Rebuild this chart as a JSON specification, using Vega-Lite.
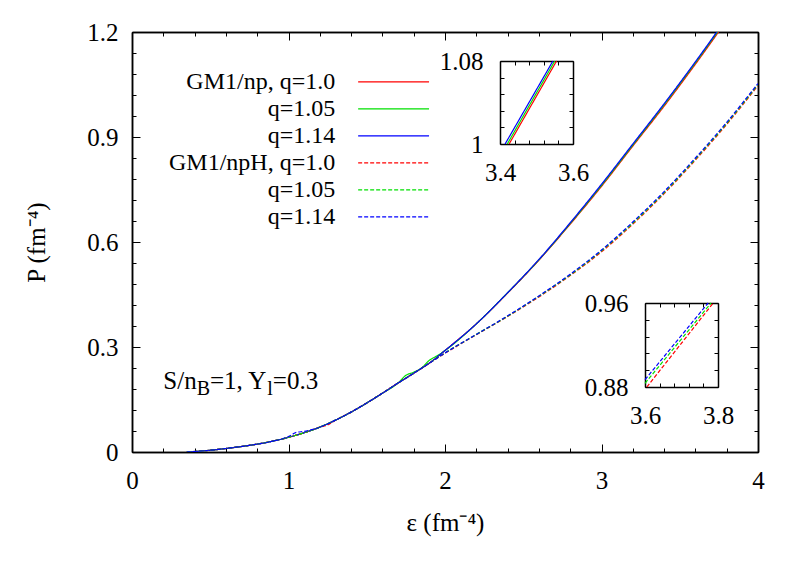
{
  "$schema": "https://vega.github.io/schema/vega-lite/v6.json",
  "width": 626,
  "height": 420,
  "autosize": {"type": "none"},
  "padding": {"left": 132, "top": 32, "right": 49, "bottom": 113},
  "background": "white",
  "config": {
    "view": {"stroke": null},
    "font": "Liberation Serif",
    "axis": {
      "grid": false, "domainColor": "#000", "domainWidth": 1.5, "tickColor": "#000", "tickWidth": 1,
      "labelFont": "Liberation Serif", "labelFontSize": 25, "labelColor": "#000",
      "titleFont": "Liberation Serif", "titleFontSize": 25, "titleFontWeight": "normal", "titleColor": "#000",
      "labelFlush": false, "labelOverlap": false
    }
  },
  "datasets": {
    "main": [
      {"s":"np1.0","e":0.35,"P":0.000},{"s":"np1.0","e":0.45,"P":0.003},{"s":"np1.0","e":0.6,"P":0.010},{"s":"np1.0","e":0.75,"P":0.019},{"s":"np1.0","e":0.9,"P":0.031},{"s":"np1.0","e":1.0,"P":0.042},{"s":"np1.0","e":1.1,"P":0.055},{"s":"np1.0","e":1.2,"P":0.071},{"s":"np1.0","e":1.3,"P":0.091},{"s":"np1.0","e":1.4,"P":0.114},{"s":"np1.0","e":1.5,"P":0.140},{"s":"np1.0","e":1.6,"P":0.168},{"s":"np1.0","e":1.7,"P":0.197},{"s":"np1.0","e":1.8,"P":0.225},{"s":"np1.0","e":1.9,"P":0.254},
      {"s":"np1.0","e":2.0,"P":0.290},{"s":"np1.0","e":2.2,"P":0.366},{"s":"np1.0","e":2.4,"P":0.454},{"s":"np1.0","e":2.6,"P":0.548},{"s":"np1.0","e":2.8,"P":0.651},{"s":"np1.0","e":3.0,"P":0.759},{"s":"np1.0","e":3.2,"P":0.874},{"s":"np1.0","e":3.4,"P":0.988},{"s":"np1.0","e":3.6,"P":1.108},{"s":"np1.0","e":3.8,"P":1.233},

      {"s":"np1.05","e":0.35,"P":0.000},{"s":"np1.05","e":0.45,"P":0.003},{"s":"np1.05","e":0.6,"P":0.010},{"s":"np1.05","e":0.75,"P":0.019},{"s":"np1.05","e":0.9,"P":0.031},{"s":"np1.05","e":1.0,"P":0.042},{"s":"np1.05","e":1.1,"P":0.055},{"s":"np1.05","e":1.2,"P":0.071},{"s":"np1.05","e":1.3,"P":0.091},{"s":"np1.05","e":1.4,"P":0.114},{"s":"np1.05","e":1.5,"P":0.140},{"s":"np1.05","e":1.6,"P":0.168},{"s":"np1.05","e":1.7,"P":0.197},{"s":"np1.05","e":1.75,"P":0.219},{"s":"np1.05","e":1.8,"P":0.228},{"s":"np1.05","e":1.85,"P":0.240},{"s":"np1.05","e":1.9,"P":0.262},{"s":"np1.05","e":1.95,"P":0.275},
      {"s":"np1.05","e":2.0,"P":0.290},{"s":"np1.05","e":2.2,"P":0.366},{"s":"np1.05","e":2.4,"P":0.455},{"s":"np1.05","e":2.6,"P":0.549},{"s":"np1.05","e":2.8,"P":0.653},{"s":"np1.05","e":3.0,"P":0.762},{"s":"np1.05","e":3.2,"P":0.877},{"s":"np1.05","e":3.4,"P":0.992},{"s":"np1.05","e":3.6,"P":1.112},{"s":"np1.05","e":3.8,"P":1.237},

      {"s":"np1.14","e":0.35,"P":0.000},{"s":"np1.14","e":0.45,"P":0.003},{"s":"np1.14","e":0.6,"P":0.010},{"s":"np1.14","e":0.75,"P":0.019},{"s":"np1.14","e":0.9,"P":0.031},{"s":"np1.14","e":1.0,"P":0.042},{"s":"np1.14","e":1.1,"P":0.055},{"s":"np1.14","e":1.2,"P":0.071},{"s":"np1.14","e":1.3,"P":0.091},{"s":"np1.14","e":1.4,"P":0.114},{"s":"np1.14","e":1.5,"P":0.140},{"s":"np1.14","e":1.6,"P":0.168},{"s":"np1.14","e":1.7,"P":0.197},{"s":"np1.14","e":1.8,"P":0.225},{"s":"np1.14","e":1.9,"P":0.254},
      {"s":"np1.14","e":2.0,"P":0.290},{"s":"np1.14","e":2.2,"P":0.366},{"s":"np1.14","e":2.4,"P":0.455},{"s":"np1.14","e":2.6,"P":0.550},{"s":"np1.14","e":2.8,"P":0.655},{"s":"np1.14","e":3.0,"P":0.765},{"s":"np1.14","e":3.2,"P":0.880},{"s":"np1.14","e":3.4,"P":0.995},{"s":"np1.14","e":3.6,"P":1.115},{"s":"np1.14","e":3.8,"P":1.240},

      {"s":"npH1.0","e":0.35,"P":0.000},{"s":"npH1.0","e":0.45,"P":0.003},{"s":"npH1.0","e":0.6,"P":0.010},{"s":"npH1.0","e":0.75,"P":0.019},{"s":"npH1.0","e":0.9,"P":0.031},{"s":"npH1.0","e":1.0,"P":0.042},{"s":"npH1.0","e":1.1,"P":0.055},{"s":"npH1.0","e":1.2,"P":0.071},{"s":"npH1.0","e":1.25,"P":0.077},{"s":"npH1.0","e":1.3,"P":0.091},{"s":"npH1.0","e":1.4,"P":0.114},{"s":"npH1.0","e":1.5,"P":0.140},{"s":"npH1.0","e":1.6,"P":0.168},{"s":"npH1.0","e":1.7,"P":0.197},{"s":"npH1.0","e":1.8,"P":0.225},{"s":"npH1.0","e":1.9,"P":0.254},
      {"s":"npH1.0","e":2.0,"P":0.282},{"s":"npH1.0","e":2.2,"P":0.335},{"s":"npH1.0","e":2.4,"P":0.387},{"s":"npH1.0","e":2.6,"P":0.443},{"s":"npH1.0","e":2.8,"P":0.504},{"s":"npH1.0","e":3.0,"P":0.572},{"s":"npH1.0","e":3.2,"P":0.651},{"s":"npH1.0","e":3.4,"P":0.738},{"s":"npH1.0","e":3.6,"P":0.834},{"s":"npH1.0","e":3.8,"P":0.936},{"s":"npH1.0","e":4.0,"P":1.047},

      {"s":"npH1.05","e":0.35,"P":0.000},{"s":"npH1.05","e":0.45,"P":0.003},{"s":"npH1.05","e":0.6,"P":0.010},{"s":"npH1.05","e":0.75,"P":0.019},{"s":"npH1.05","e":0.9,"P":0.031},{"s":"npH1.05","e":1.0,"P":0.042},{"s":"npH1.05","e":1.1,"P":0.055},{"s":"npH1.05","e":1.2,"P":0.071},{"s":"npH1.05","e":1.3,"P":0.091},{"s":"npH1.05","e":1.4,"P":0.114},{"s":"npH1.05","e":1.5,"P":0.140},{"s":"npH1.05","e":1.6,"P":0.168},{"s":"npH1.05","e":1.7,"P":0.197},{"s":"npH1.05","e":1.8,"P":0.225},{"s":"npH1.05","e":1.9,"P":0.254},
      {"s":"npH1.05","e":2.0,"P":0.283},{"s":"npH1.05","e":2.2,"P":0.336},{"s":"npH1.05","e":2.4,"P":0.388},{"s":"npH1.05","e":2.6,"P":0.445},{"s":"npH1.05","e":2.8,"P":0.506},{"s":"npH1.05","e":3.0,"P":0.575},{"s":"npH1.05","e":3.2,"P":0.654},{"s":"npH1.05","e":3.4,"P":0.741},{"s":"npH1.05","e":3.6,"P":0.837},{"s":"npH1.05","e":3.8,"P":0.939},{"s":"npH1.05","e":4.0,"P":1.050},

      {"s":"npH1.14","e":0.35,"P":0.000},{"s":"npH1.14","e":0.45,"P":0.003},{"s":"npH1.14","e":0.6,"P":0.010},{"s":"npH1.14","e":0.75,"P":0.019},{"s":"npH1.14","e":0.9,"P":0.031},{"s":"npH1.14","e":1.0,"P":0.044},{"s":"npH1.14","e":1.05,"P":0.056},{"s":"npH1.14","e":1.1,"P":0.059},{"s":"npH1.14","e":1.2,"P":0.071},{"s":"npH1.14","e":1.3,"P":0.091},{"s":"npH1.14","e":1.4,"P":0.114},{"s":"npH1.14","e":1.5,"P":0.140},{"s":"npH1.14","e":1.6,"P":0.168},{"s":"npH1.14","e":1.7,"P":0.197},{"s":"npH1.14","e":1.8,"P":0.225},{"s":"npH1.14","e":1.9,"P":0.254},
      {"s":"npH1.14","e":2.0,"P":0.283},{"s":"npH1.14","e":2.2,"P":0.336},{"s":"npH1.14","e":2.4,"P":0.389},{"s":"npH1.14","e":2.6,"P":0.446},{"s":"npH1.14","e":2.8,"P":0.508},{"s":"npH1.14","e":3.0,"P":0.577},{"s":"npH1.14","e":3.2,"P":0.657},{"s":"npH1.14","e":3.4,"P":0.744},{"s":"npH1.14","e":3.6,"P":0.840},{"s":"npH1.14","e":3.8,"P":0.942},{"s":"npH1.14","e":4.0,"P":1.053}
    ],
    "inset1": [
      {"s":"np1.0","e":3.425,"P":1.0},{"s":"np1.0","e":3.555,"P":1.08},
      {"s":"np1.05","e":3.42,"P":1.0},{"s":"np1.05","e":3.55,"P":1.08},
      {"s":"np1.14","e":3.414,"P":1.0},{"s":"np1.14","e":3.545,"P":1.08}
    ],
    "inset2": [
      {"s":"npH1.0","e":3.605,"P":0.88},{"s":"npH1.0","e":3.787,"P":0.96},
      {"s":"npH1.05","e":3.6,"P":0.8835},{"s":"npH1.05","e":3.781,"P":0.96},
      {"s":"npH1.14","e":3.6,"P":0.887},{"s":"npH1.14","e":3.773,"P":0.96}
    ]
  },
  "resolve": {"scale": {"x": "independent", "y": "independent"}, "axis": {"x": "independent", "y": "independent"}},
  "layer": [
    {
      "data": {"name": "main"},
      "mark": {"type": "line", "clip": true, "strokeWidth": 1.2, "interpolate": "monotone"},
      "encoding": {
        "x": {"field": "e", "type": "quantitative", "scale": {"domain": [0, 4], "nice": false, "zero": false},
              "axis": {"orient": "bottom", "values": [0, 1, 2, 3, 4], "format": "d", "tickSize": -8, "labelPadding": 24,
                       "title": "ε (fm⁻⁴)", "titleY": 78, "titleBaseline": "alphabetic", "titleX": 313, "titleAlign": "center"}},
        "y": {"field": "P", "type": "quantitative", "scale": {"domain": [0, 1.2], "nice": false, "zero": false},
              "axis": {"orient": "left", "values": [0, 0.3, 0.6, 0.9, 1.2], "format": ".1~f", "tickSize": -8, "labelPadding": 22,
                       "title": "P (fm⁻⁴)", "titleX": -88, "titleY": 210, "titleAngle": -90, "titleBaseline": "alphabetic", "titleAlign": "center"}},
        "color": {"field": "s", "type": "nominal",
                  "scale": {"domain": ["np1.0", "np1.05", "np1.14", "npH1.0", "npH1.05", "npH1.14"], "range": ["#ff0000", "#00e000", "#0000ff", "#ff0000", "#00e000", "#0000ff"]},
                  "legend": {"title": null, "orient": "none", "legendX": 246.6, "legendY": 34.8, "symbolType": "M-2.55,0H2.55", "symbolSize": 773, "symbolStrokeWidth": 1.2,
                             "labelAlign": "right", "labelOffset": -73.4, "labelFontSize": 24, "labelFont": "Liberation Serif", "labelColor": "#000", "labelLimit": 400,
                             "rowPadding": 0, "padding": 0,
                             "labelExpr": "datum.label == 'np1.0' ? 'GM1/np, q=1.0' : datum.label == 'npH1.0' ? 'GM1/npH, q=1.0' : 'q=' + replace(replace(datum.label, 'npH', ''), 'np', '')"}},
        "strokeDash": {"field": "s", "type": "nominal",
                       "scale": {"domain": ["np1.0", "np1.05", "np1.14", "npH1.0", "npH1.05", "npH1.14"], "range": [[1, 0], [1, 0], [1, 0], [4, 2], [4, 2], [4, 2]]}}
      }
    },
    {
      "data": {"name": "main"},
      "mark": {"type": "line", "opacity": 0, "clip": true},
      "encoding": {
        "x": {"field": "e", "type": "quantitative", "scale": {"domain": [0, 4], "nice": false, "zero": false},
              "axis": {"orient": "bottom", "values": [0, 0.2, 0.4, 0.6, 0.8, 1, 1.2, 1.4, 1.6, 1.8, 2, 2.2, 2.4, 2.6, 2.8, 3, 3.2, 3.4, 3.6, 3.8, 4], "labels": false, "tickSize": -4, "title": null}},
        "y": {"field": "P", "type": "quantitative", "scale": {"domain": [0, 1.2], "nice": false, "zero": false},
              "axis": {"orient": "left", "values": [0, 0.06, 0.12, 0.18, 0.24, 0.3, 0.36, 0.42, 0.48, 0.54, 0.6, 0.66, 0.72, 0.78, 0.84, 0.9, 0.96, 1.02, 1.08, 1.14, 1.2], "labels": false, "tickSize": -4, "title": null}},
        "detail": {"field": "s"}
      }
    },
    {
      "data": {"name": "main"},
      "mark": {"type": "line", "opacity": 0, "clip": true},
      "encoding": {
        "x": {"field": "e", "type": "quantitative", "scale": {"domain": [0, 4], "nice": false, "zero": false},
              "axis": {"orient": "top", "values": [0, 1, 2, 3, 4], "labels": false, "tickSize": -8, "title": null}},
        "y": {"field": "P", "type": "quantitative", "scale": {"domain": [0, 1.2], "nice": false, "zero": false},
              "axis": {"orient": "right", "values": [0, 0.3, 0.6, 0.9, 1.2], "labels": false, "tickSize": -8, "title": null}},
        "detail": {"field": "s"}
      }
    },
    {
      "data": {"name": "main"},
      "mark": {"type": "line", "opacity": 0, "clip": true},
      "encoding": {
        "x": {"field": "e", "type": "quantitative", "scale": {"domain": [0, 4], "nice": false, "zero": false},
              "axis": {"orient": "top", "values": [0, 0.2, 0.4, 0.6, 0.8, 1, 1.2, 1.4, 1.6, 1.8, 2, 2.2, 2.4, 2.6, 2.8, 3, 3.2, 3.4, 3.6, 3.8, 4], "labels": false, "tickSize": -4, "title": null}},
        "y": {"field": "P", "type": "quantitative", "scale": {"domain": [0, 1.2], "nice": false, "zero": false},
              "axis": {"orient": "right", "values": [0, 0.06, 0.12, 0.18, 0.24, 0.3, 0.36, 0.42, 0.48, 0.54, 0.6, 0.66, 0.72, 0.78, 0.84, 0.9, 0.96, 1.02, 1.08, 1.14, 1.2], "labels": false, "tickSize": -4, "title": null}},
        "detail": {"field": "s"}
      }
    },
    {
      "data": {"name": "inset1"},
      "mark": {"type": "line", "strokeWidth": 1.2},
      "encoding": {
        "x": {"field": "e", "type": "quantitative", "scale": {"domain": [3.4, 3.6], "range": [368, 441], "nice": false, "zero": false},
              "axis": {"orient": "bottom", "offset": -308, "values": [3.4, 3.44, 3.48, 3.52, 3.56, 3.6], "labelExpr": "datum.value == 3.4 || datum.value == 3.6 ? format(datum.value, '.1f') : ''", "tickSize": -4, "labelPadding": 20, "title": null}},
        "y": {"field": "P", "type": "quantitative", "scale": {"domain": [1, 1.08], "range": [112, 29], "nice": false, "zero": false},
              "axis": {"orient": "left", "offset": -368, "values": [1, 1.016, 1.032, 1.048, 1.064, 1.08], "labelExpr": "datum.value == 1 ? '1' : datum.value == 1.08 ? '1.08' : ''", "tickSize": -4, "labelPadding": 21, "title": null}},
        "color": {"field": "s", "type": "nominal", "scale": {"domain": ["np1.0", "np1.05", "np1.14", "npH1.0", "npH1.05", "npH1.14"], "range": ["#ff0000", "#00e000", "#0000ff", "#ff0000", "#00e000", "#0000ff"]}},
        "strokeDash": {"field": "s", "type": "nominal", "scale": {"domain": ["np1.0", "np1.05", "np1.14", "npH1.0", "npH1.05", "npH1.14"], "range": [[1, 0], [1, 0], [1, 0], [4, 2], [4, 2], [4, 2]]}}
      }
    },
    {
      "data": {"name": "inset1"},
      "mark": {"type": "line", "opacity": 0},
      "encoding": {
        "x": {"field": "e", "type": "quantitative", "scale": {"domain": [3.4, 3.6], "range": [368, 441], "nice": false, "zero": false},
              "axis": {"orient": "top", "offset": -29, "values": [3.4, 3.44, 3.48, 3.52, 3.56, 3.6], "labels": false, "tickSize": -4, "title": null}},
        "y": {"field": "P", "type": "quantitative", "scale": {"domain": [1, 1.08], "range": [112, 29], "nice": false, "zero": false},
              "axis": {"orient": "right", "offset": -185, "values": [1, 1.016, 1.032, 1.048, 1.064, 1.08], "labels": false, "tickSize": -4, "title": null}},
        "detail": {"field": "s"}
      }
    },
    {
      "data": {"name": "inset2"},
      "mark": {"type": "line", "strokeWidth": 1.2},
      "encoding": {
        "x": {"field": "e", "type": "quantitative", "scale": {"domain": [3.6, 3.8], "range": [513, 586], "nice": false, "zero": false},
              "axis": {"orient": "bottom", "offset": -65, "values": [3.6, 3.64, 3.68, 3.72, 3.76, 3.8], "labelExpr": "datum.value == 3.6 || datum.value == 3.8 ? format(datum.value, '.1f') : ''", "tickSize": -4, "labelPadding": 20, "title": null}},
        "y": {"field": "P", "type": "quantitative", "scale": {"domain": [0.88, 0.96], "range": [355, 271], "nice": false, "zero": false},
              "axis": {"orient": "left", "offset": -513, "values": [0.88, 0.896, 0.912, 0.928, 0.944, 0.96], "labelExpr": "datum.value == 0.88 || datum.value == 0.96 ? format(datum.value, '.2f') : ''", "tickSize": -4, "labelPadding": 21, "title": null}},
        "color": {"field": "s", "type": "nominal", "scale": {"domain": ["np1.0", "np1.05", "np1.14", "npH1.0", "npH1.05", "npH1.14"], "range": ["#ff0000", "#00e000", "#0000ff", "#ff0000", "#00e000", "#0000ff"]}},
        "strokeDash": {"field": "s", "type": "nominal", "scale": {"domain": ["np1.0", "np1.05", "np1.14", "npH1.0", "npH1.05", "npH1.14"], "range": [[1, 0], [1, 0], [1, 0], [4, 2], [4, 2], [4, 2]]}}
      }
    },
    {
      "data": {"name": "inset2"},
      "mark": {"type": "line", "opacity": 0},
      "encoding": {
        "x": {"field": "e", "type": "quantitative", "scale": {"domain": [3.6, 3.8], "range": [513, 586], "nice": false, "zero": false},
              "axis": {"orient": "top", "offset": -271, "values": [3.6, 3.64, 3.68, 3.72, 3.76, 3.8], "labels": false, "tickSize": -4, "title": null}},
        "y": {"field": "P", "type": "quantitative", "scale": {"domain": [0.88, 0.96], "range": [355, 271], "nice": false, "zero": false},
              "axis": {"orient": "right", "offset": -40, "values": [0.88, 0.896, 0.912, 0.928, 0.944, 0.96], "labels": false, "tickSize": -4, "title": null}},
        "detail": {"field": "s"}
      }
    },
    {
      "data": {"values": [{}]},
      "mark": {"type": "text", "text": "S/n", "font": "Liberation Serif", "fontSize": 25, "align": "left", "baseline": "alphabetic", "color": "#000"},
      "encoding": {
        "x": {"datum": 0.2, "type": "quantitative", "scale": {"domain": [0, 4], "nice": false, "zero": false}, "axis": null},
        "y": {"datum": 0.18, "type": "quantitative", "scale": {"domain": [0, 1.2], "nice": false, "zero": false}, "axis": null}
      }
    },
    {
      "data": {"values": [{}]},
      "mark": {"type": "text", "text": "B", "font": "Liberation Serif", "fontSize": 20, "align": "left", "baseline": "alphabetic", "dx": 33.4, "dy": 6, "color": "#000"},
      "encoding": {
        "x": {"datum": 0.2, "type": "quantitative", "scale": {"domain": [0, 4], "nice": false, "zero": false}, "axis": null},
        "y": {"datum": 0.18, "type": "quantitative", "scale": {"domain": [0, 1.2], "nice": false, "zero": false}, "axis": null}
      }
    },
    {
      "data": {"values": [{}]},
      "mark": {"type": "text", "text": "=1, Y", "font": "Liberation Serif", "fontSize": 25, "align": "left", "baseline": "alphabetic", "dx": 46.7, "color": "#000"},
      "encoding": {
        "x": {"datum": 0.2, "type": "quantitative", "scale": {"domain": [0, 4], "nice": false, "zero": false}, "axis": null},
        "y": {"datum": 0.18, "type": "quantitative", "scale": {"domain": [0, 1.2], "nice": false, "zero": false}, "axis": null}
      }
    },
    {
      "data": {"values": [{}]},
      "mark": {"type": "text", "text": "l", "font": "Liberation Serif", "fontSize": 20, "align": "left", "baseline": "alphabetic", "dx": 103.9, "dy": 6, "color": "#000"},
      "encoding": {
        "x": {"datum": 0.2, "type": "quantitative", "scale": {"domain": [0, 4], "nice": false, "zero": false}, "axis": null},
        "y": {"datum": 0.18, "type": "quantitative", "scale": {"domain": [0, 1.2], "nice": false, "zero": false}, "axis": null}
      }
    },
    {
      "data": {"values": [{}]},
      "mark": {"type": "text", "text": "=0.3", "font": "Liberation Serif", "fontSize": 25, "align": "left", "baseline": "alphabetic", "dx": 109.5, "color": "#000"},
      "encoding": {
        "x": {"datum": 0.2, "type": "quantitative", "scale": {"domain": [0, 4], "nice": false, "zero": false}, "axis": null},
        "y": {"datum": 0.18, "type": "quantitative", "scale": {"domain": [0, 1.2], "nice": false, "zero": false}, "axis": null}
      }
    }
  ]
}
